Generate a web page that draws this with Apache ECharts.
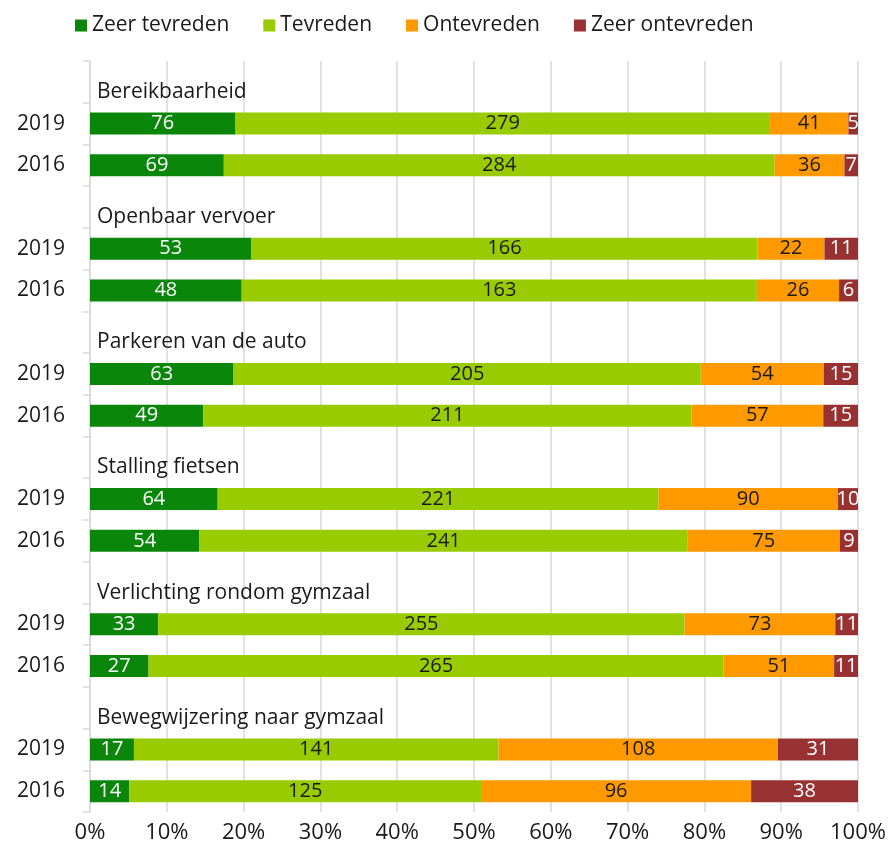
<!DOCTYPE html>
<html>
<head>
<meta charset="utf-8">
<script src="https://cdn.jsdelivr.net/npm/echarts@6/dist/echarts.min.js"></script>
<style>
  html, body { margin: 0; padding: 0; background: #fff; }
  #chart { width: 890px; height: 856px; }
</style>
</head>
<body>
<div id="chart"></div>
<script>
// Satisfaction with the gym hall surroundings, counts per answer, 2019 vs 2016
const groups = ['Bereikbaarheid', 'Openbaar vervoer', 'Parkeren van de auto',
  'Stalling fietsen', 'Verlichting rondom gymzaal', 'Bewegwijzering naar gymzaal'];
const years = ['2019', '2016'];
const seriesNames = ['Zeer tevreden', 'Tevreden', 'Ontevreden', 'Zeer ontevreden'];

// counts per group, [2019, 2016]
const zeerTevreden   = [[76, 69], [53, 48], [63, 49], [64, 54], [33, 27], [17, 14]];
const tevreden       = [[279, 284], [166, 163], [205, 211], [221, 241], [255, 265], [141, 125]];
const ontevreden     = [[41, 36], [22, 26], [54, 57], [90, 75], [73, 51], [108, 96]];
const zeerOntevreden = [[5, 7], [11, 6], [15, 15], [10, 9], [11, 11], [31, 38]];

const xTicks = ['0%', '10%', '20%', '30%', '40%', '50%', '60%', '70%', '80%', '90%', '100%'];

const colors = ['#0a870a', '#99cc00', '#ff9900', '#983232'];
const labelColors = ['#ffffff', '#1a1a1a', '#1a1a1a', '#ffffff'];
const FONT = 'Open Sans';

// Category rows: a heading row per group followed by one row per year
const categories = [];
groups.forEach((g, gi) => {
  categories.push('h' + gi);
  years.forEach(y => categories.push(y + '_' + gi));
});

const allCounts = [zeerTevreden, tevreden, ontevreden, zeerOntevreden];

function rowTotal(gi, yi) {
  return allCounts.reduce((s, arr) => s + arr[gi][yi], 0);
}

const series = seriesNames.map((name, si) => {
  const data = [];
  groups.forEach((g, gi) => {
    data.push(null);
    years.forEach((y, yi) => {
      const c = allCounts[si][gi][yi];
      data.push({ value: c / rowTotal(gi, yi) * 100, count: c });
    });
  });
  return {
    name: name,
    type: 'bar',
    stack: 'total',
    barWidth: 22,
    data: data,
    itemStyle: { color: colors[si] },
    label: {
      show: true,
      position: 'inside',
      color: labelColors[si],
      fontFamily: FONT,
      fontSize: 20,
      formatter: p => p.data && p.data.count != null ? String(p.data.count) : ''
    },
    emphasis: { disabled: true }
  };
});

// Group headings, drawn on the heading rows
const headingData = [];
groups.forEach((g, gi) => {
  headingData.push({ value: 100, heading: g });
  years.forEach(() => headingData.push(null));
});
series.push({
  name: 'heading',
  type: 'bar',
  barGap: '-100%',
  barWidth: 22,
  silent: true,
  data: headingData,
  itemStyle: { color: 'rgba(0,0,0,0)' },
  label: {
    show: true,
    position: 'insideLeft',
    distance: 7,
    offset: [0, 10],
    color: '#1a1a1a',
    fontFamily: FONT,
    fontSize: 21,
    formatter: p => p.data ? p.data.heading : ''
  }
});

const chart = echarts.init(document.getElementById('chart'));
chart.setOption({
  animation: false,
  legend: {
    data: seriesNames,
    top: 10,
    left: 70,
    itemWidth: 12,
    itemHeight: 12,
    itemGap: 34,
    icon: 'rect',
    textStyle: { fontFamily: FONT, fontSize: 21, color: '#1a1a1a' }
  },
  grid: { left: 90, right: 32, top: 61, bottom: 44, containLabel: false },
  xAxis: {
    type: 'value',
    min: 0,
    max: 100,
    interval: 10,
    axisLine: { show: false },
    axisTick: { show: false },
    splitLine: { lineStyle: { color: '#d9d9d9', width: 1.5 } },
    axisLabel: {
      margin: 10,
      color: '#1a1a1a',
      fontFamily: FONT,
      fontSize: 22,
      formatter: v => xTicks[Math.round(v / 10)]
    }
  },
  yAxis: {
    type: 'category',
    inverse: true,
    data: categories,
    axisLine: { show: true, lineStyle: { color: '#d9d9d9', width: 1.5 } },
    axisTick: { show: true, length: 7, lineStyle: { color: '#d9d9d9', width: 1.5 } },
    axisLabel: {
      margin: 25,
      color: '#1a1a1a',
      fontFamily: FONT,
      fontSize: 21,
      formatter: v => v.startsWith('h') ? '' : v.split('_')[0]
    }
  },
  series: series
});
</script>
</body>
</html>
